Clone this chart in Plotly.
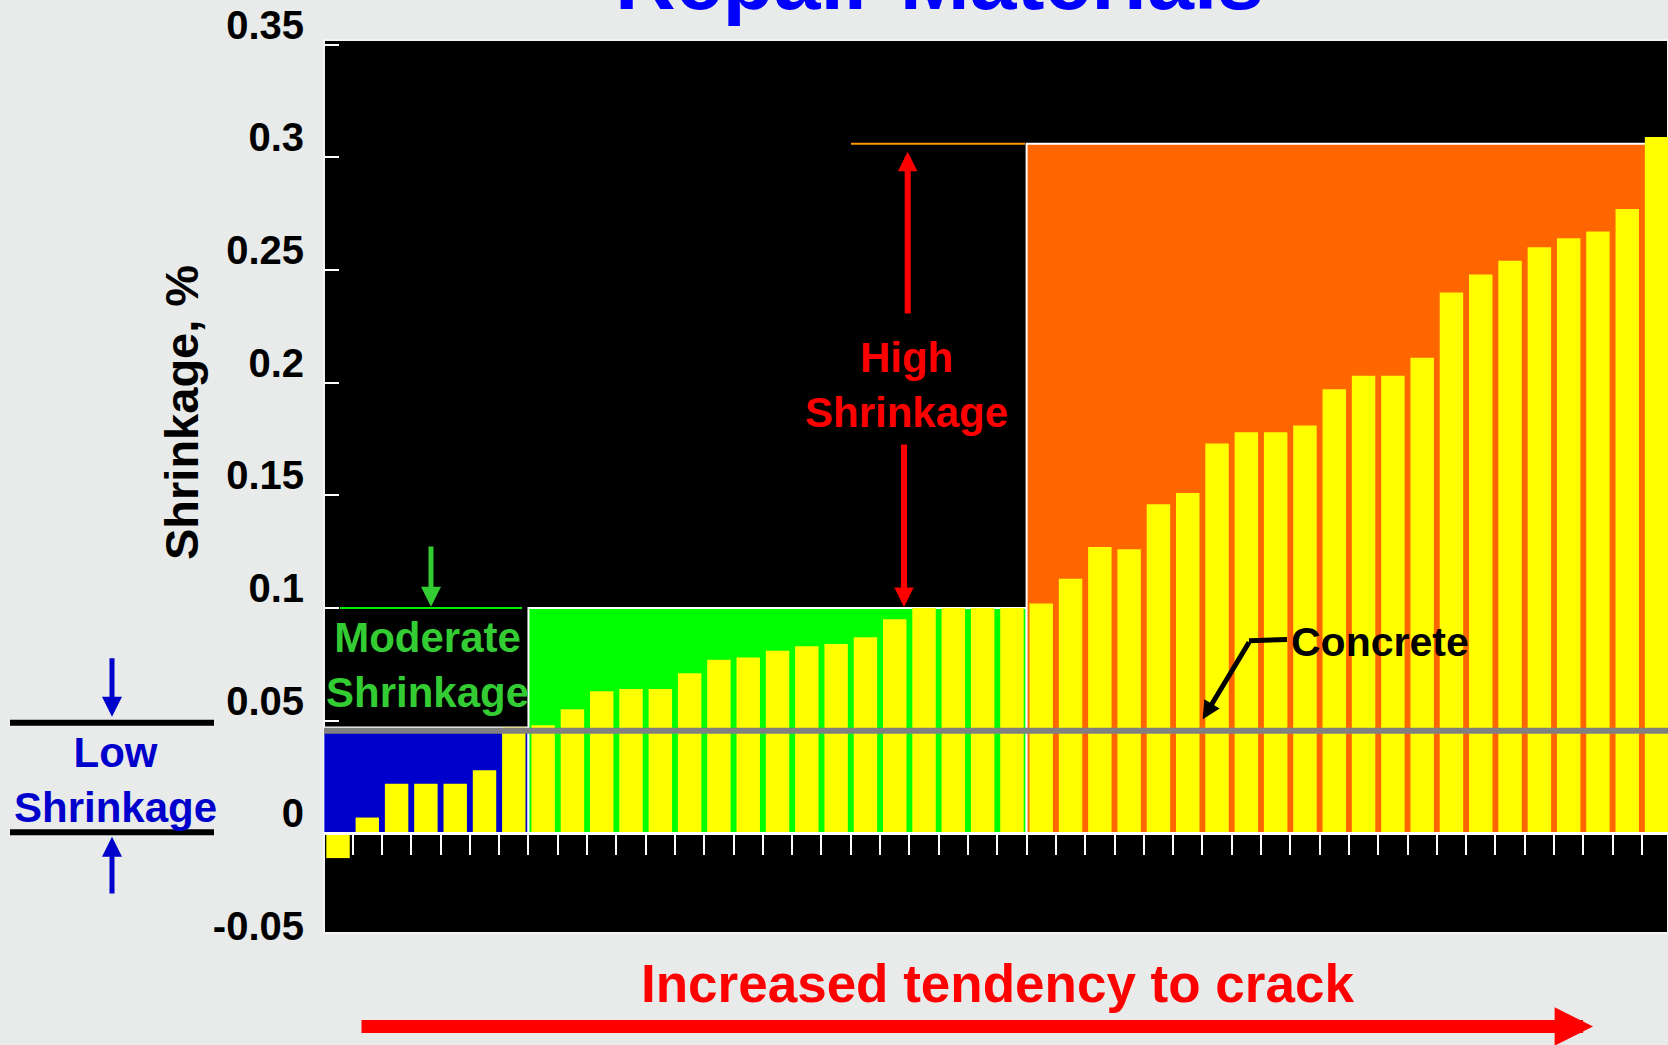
import plotly.graph_objects as go

# ---------------- data ----------------
materials = [str(i) for i in range(1, 47)]
shrinkage = [-0.011, 0.007, 0.022, 0.022, 0.022, 0.028, 0.047, 0.048, 0.055, 0.063,
             0.064, 0.064, 0.071, 0.077, 0.078, 0.081, 0.083, 0.084, 0.087, 0.095,
             0.100, 0.100, 0.100, 0.100, 0.102, 0.113, 0.127, 0.126, 0.146, 0.151,
             0.173, 0.178, 0.178, 0.181, 0.197, 0.203, 0.203, 0.211, 0.240, 0.248,
             0.254, 0.260, 0.264, 0.267, 0.277, 0.309]
concrete_shrinkage = 0.0455

region_labels = ["Low<br>Shrinkage", "Moderate<br>Shrinkage", "High<br>Shrinkage"]
region_first = [0, 7, 24]          # first material index in region
region_last = [6, 23, 45]          # last material index in region
region_top = [0.047, 0.100, 0.306]
region_fill = ["#0000cc", "#00ff00", "#ff6600"]
region_text_color = ["#0000cc", "#33cc33", "#ff0000"]

y_tick_vals = [-0.05, 0, 0.05, 0.1, 0.15, 0.2, 0.25, 0.3, 0.35]
y_tick_text = ["-0.05", "0", "0.05", "0.1", "0.15", "0.2", "0.25", "0.3", "0.35"]

# ---------------- geometry / style ----------------
W, H = 1668, 1045
ML, MR, MT, MB = 324, 0, 40, 99
Y_RANGE = [-0.05, 0.352]
X_RANGE = [-0.478, 45.39]
PANEL_BOTTOM_PX = 933          # the black chart panel stops a little above the axis minimum
FONT = "Liberation Sans, Arial, Helvetica, sans-serif"
BG = "#e8ebe9"

PW = W - ML - MR
PH = H - MT - MB


def px(xp):
    return (xp - ML) / PW


def py(yp):
    return (H - MB - yp) / PH


zero_frac = (0 - Y_RANGE[0]) / (Y_RANGE[1] - Y_RANGE[0])

fig = go.Figure()
fig.add_trace(go.Bar(
    x=materials, y=shrinkage,
    marker=dict(color="#ffff00", line=dict(width=0)),
    showlegend=False, hoverinfo="x+y",
))

shapes = []
# black chart panel
shapes.append(dict(type="rect", xref="paper", yref="paper", x0=0, x1=1,
                   y0=py(PANEL_BOTTOM_PX), y1=1, fillcolor="black",
                   line=dict(color="#f4f4f4", width=2), layer="below"))
# shrinkage category boxes
for first, last, top, fill in zip(region_first, region_last, region_top, region_fill):
    shapes.append(dict(type="rect", xref="x", yref="y", x0=first - 0.5, x1=last + 0.5,
                       y0=0, y1=top, fillcolor=fill, line=dict(color="white", width=2),
                       layer="below"))
# guide lines extending the moderate / high limits
shapes.append(dict(type="line", xref="paper", yref="y", x0=px(340), x1=px(522),
                   y0=region_top[1], y1=region_top[1], line=dict(color="#00ee00", width=2)))
shapes.append(dict(type="line", xref="paper", yref="y", x0=px(851), x1=px(1025),
                   y0=region_top[2], y1=region_top[2], line=dict(color="#ff9900", width=2)))
# concrete reference line
shapes.append(dict(type="line", xref="x", yref="y", x0=-0.5, x1=len(materials) - 0.5,
                   y0=concrete_shrinkage, y1=concrete_shrinkage,
                   line=dict(color="#808080", width=6), layer="above"))
# low-shrinkage bracket lines (outside plot)
for yy in (722.7, 832.3):
    shapes.append(dict(type="line", xref="paper", yref="paper", x0=px(10), x1=px(214),
                       y0=py(yy), y1=py(yy), line=dict(color="black", width=6)))
# concrete callout horizontal segment
shapes.append(dict(type="line", xref="paper", yref="paper", x0=px(1287), x1=px(1249),
                   y0=py(639.5), y1=py(640.7), line=dict(color="black", width=5)))

ann = []


def label(text, x, y, color, size, angle=0, xanchor="center", yanchor="middle"):
    ann.append(dict(text=text, xref="paper", yref="paper", x=px(x), y=py(y),
                    showarrow=False, textangle=angle, xanchor=xanchor, yanchor=yanchor,
                    font=dict(family=FONT, size=size, color=color, weight="bold")))


def arrow(tip, tail, color, width, size):
    ann.append(dict(text="", xref="paper", yref="paper", x=px(tip[0]), y=py(tip[1]),
                    ax=tail[0] - tip[0], ay=tail[1] - tip[1], axref="pixel", ayref="pixel",
                    showarrow=True, arrowhead=2, arrowsize=size, arrowwidth=width,
                    arrowcolor=color, standoff=0, startstandoff=0))


label("Repair Materials", 939, 29, "#0000ff", 84, yanchor="bottom")
label("Shrinkage, %", 181, 413, "black", 47, angle=-90)
label(region_labels[0], 115, 780, region_text_color[0], 42)
label(region_labels[1], 427, 664.5, region_text_color[1], 42)
label(region_labels[2], 906.7, 385, region_text_color[2], 42)
label("Concrete", 1380, 641.7, "black", 41)
label("Increased tendency to crack", 997, 983.6, "#ff0000", 53)

arrow((907.7, 151.7), (907.7, 315), "#ff0000", 6, 0.65)
arrow((904, 607), (904, 443), "#ff0000", 6, 0.65)
arrow((431, 606.7), (431, 545), "#33cc33", 5, 0.8)
arrow((112, 716.7), (112, 656.7), "#0000cc", 5, 0.8)
arrow((112, 836.7), (112, 895), "#0000cc", 5, 0.8)
arrow((1202.7, 719.3), (1250, 640.7), "black", 5, 0.72)
arrow((1593, 1026.5), (360, 1026.5), "#ff0000", 13, 0.59)

fig.update_layout(
    width=W, height=H,
    margin=dict(l=ML, r=MR, t=MT, b=MB, pad=0, autoexpand=False),
    paper_bgcolor=BG, plot_bgcolor=BG,
    bargap=0.2,
    showlegend=False,
    shapes=shapes,
    annotations=ann,
    font=dict(family=FONT),
    xaxis=dict(type="category", range=X_RANGE, anchor="free", position=zero_frac,
               showline=True, linecolor="white", linewidth=3,
               ticks="outside", ticklen=20, tickwidth=2, tickcolor="white",
               tickson="boundaries", showticklabels=False, showgrid=False,
               zeroline=False, fixedrange=True),
    yaxis=dict(range=Y_RANGE, tickvals=y_tick_vals, ticktext=y_tick_text,
               ticks="inside", ticklen=15, tickwidth=2, tickcolor="white",
               showgrid=False, zeroline=False, showline=False,
               tickfont=dict(family=FONT, size=40, color="black", weight="bold"),
               ticklabelshift=-20, ticklabelstandoff=19, fixedrange=True),
)

fig.write_html(
    "out.html",
    config={"displayModeBar": False},
    post_script="document.body.style.margin='0';document.body.style.background='%s';" % BG,
)
